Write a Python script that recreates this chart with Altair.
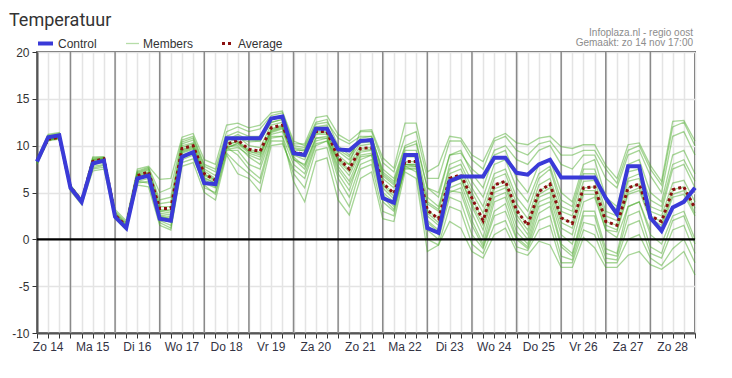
import altair as alt
import pandas as pd

# x index: 6-hourly steps starting Zo 14 06:00 (index 0) to Ma 29 00:00 (index 59)
day_labels = ["Zo 14", "Ma 15", "Di 16", "Wo 17", "Do 18", "Vr 19", "Za 20", "Zo 21",
              "Ma 22", "Di 23", "Wo 24", "Do 25", "Vr 26", "Za 27", "Zo 28"]
day_label_pos = [1, 5, 9, 13, 17, 21, 25, 29, 33, 37, 41, 45, 49, 53, 57]
day_starts = [3, 7, 11, 15, 19, 23, 27, 31, 35, 39, 43, 47, 51, 55]

control = [8.3, 10.9, 11.1, 5.5, 4.0, 8.1, 8.4, 2.4, 1.2, 6.5, 6.8, 2.2, 2.0, 8.8, 9.3,
           6.0, 5.9, 10.8, 10.8, 10.8, 10.8, 12.9, 13.1, 9.2, 9.0, 11.8, 11.8, 9.6, 9.5, 10.5,
           10.6, 4.4, 3.9, 9.0, 9.0, 1.2, 0.7, 6.2, 6.7, 6.7, 6.7, 8.7, 8.7, 7.1, 6.9,
           8.0, 8.5, 6.6, 6.6, 6.6, 6.6, 4.4, 2.7, 7.8, 7.8, 2.3, 0.9, 3.4, 4.0, 5.5]

average = [8.4, 10.7, 10.9, 5.6, 4.1, 8.3, 8.6, 2.6, 1.4, 6.8, 7.2, 3.3, 3.3, 9.7, 10.0,
           7.0, 6.3, 10.1, 10.6, 9.6, 9.4, 11.9, 12.2, 9.3, 9.1, 11.5, 11.5, 8.7, 7.5, 9.7,
           9.8, 6.0, 4.9, 8.3, 8.3, 3.1, 2.2, 6.5, 6.9, 4.4, 2.0, 5.8, 6.2, 3.1, 1.5,
           5.1, 5.9, 2.3, 1.7, 5.5, 5.6, 1.9, 1.5, 5.5, 5.9, 2.5, 1.9, 5.3, 5.6, 3.3]

m1 = [8.6, 11.2, 11.4, 5.8, 4.3, 8.8, 8.8, 3.2, 2.0, 7.5, 7.8, 6.4, 6.5, 10.9, 11.3, 8.5, 8.0, 12.2, 12.4, 11.9, 12.2, 13.5, 13.7, 10.5, 10.0, 12.5, 12.8, 10.0, 9.0, 10.5, 10.8, 7.5, 6.5, 10.0, 10.5, 5.5, 4.5, 9.0, 9.5, 7.0, 5.5, 9.0, 9.5, 6.5, 5.0, 8.0, 8.5, 5.0, 4.0, 8.0, 8.5, 4.5, 3.5, 8.0, 8.5, 5.0, 4.0, 9.0, 9.5, 7.0]
m2 = [8.0, 10.5, 10.7, 5.2, 3.7, 7.3, 7.5, 2.2, 1.0, 5.8, 5.6, 1.5, 1.0, 7.8, 8.2, 5.0, 4.2, 9.0, 7.0, 6.5, 5.1, 10.0, 10.2, 7.5, 6.5, 10.0, 10.5, 8.5, 8.0, 11.6, 11.7, 8.7, 7.6, 12.4, 12.4, 7.2, 7.9, 11.0, 10.8, 9.0, 8.3, 10.8, 11.3, 10.3, 10.1, 10.8, 11.0, 9.9, 9.7, 10.1, 10.1, 7.9, 6.5, 10.1, 10.3, 7.9, 6.2, 12.6, 12.7, 10.5]
m3 = [8.2, 10.6, 10.8, 5.4, 3.9, 7.8, 8.0, 2.4, 1.2, 6.2, 6.5, 2.0, 1.5, 8.5, 9.0, 5.5, 5.0, 9.5, 9.5, 8.0, 7.5, 11.0, 11.0, 6.2, 4.0, 8.3, 8.7, 4.2, 2.6, 6.5, 7.2, 2.2, 1.9, 7.2, 6.5, -1.3, -0.6, 1.9, 1.2, -1.3, -2.0, 0.5, 1.2, -1.3, -1.7, -0.2, -0.6, -3.0, -3.0, 0.2, -0.9, -3.0, -3.0, -1.7, -1.3, -2.7, -3.2, -2.3, -1.3, -3.8]
m4 = [8.4, 10.8, 11.0, 5.6, 4.1, 8.5, 8.7, 2.7, 1.5, 7.0, 7.4, 3.5, 3.5, 10.0, 10.3, 7.3, 6.5, 10.5, 11.0, 10.0, 9.8, 12.2, 12.5, 9.5, 9.5, 11.8, 11.8, 9.0, 8.0, 10.0, 10.2, 6.5, 5.5, 8.8, 8.8, 3.8, 3.0, 7.0, 7.5, 5.0, 2.8, 6.5, 7.0, 3.8, 2.2, 5.8, 6.5, 3.0, 2.5, 6.2, 6.3, 2.5, 2.0, 6.2, 6.5, 3.0, 2.5, 6.0, 6.3, 4.0]
m5 = [8.3, 10.6, 10.9, 5.5, 4.0, 8.0, 8.4, 2.5, 1.3, 6.6, 7.0, 2.8, 2.6, 9.4, 9.8, 6.6, 6.0, 9.8, 10.2, 9.2, 8.8, 11.6, 12.0, 9.0, 8.5, 11.2, 11.2, 8.2, 6.8, 9.3, 9.5, 5.5, 4.3, 7.8, 7.8, 2.5, 1.5, 6.0, 6.5, 3.5, 1.0, 5.0, 5.5, 2.2, 0.5, 4.5, 5.0, 1.2, 0.5, 4.8, 4.8, 1.0, 0.8, 4.8, 5.2, 2.0, 1.2, 4.5, 4.8, 2.5]
m6 = [8.5, 11.0, 11.2, 5.7, 4.2, 8.6, 8.7, 2.9, 1.7, 7.2, 7.6, 4.2, 4.5, 10.4, 10.8, 7.8, 7.2, 11.0, 11.5, 11.0, 11.0, 12.8, 13.0, 10.0, 9.8, 12.3, 12.5, 10.8, 10.2, 11.0, 11.0, 7.0, 6.0, 9.5, 9.5, 4.5, 3.5, 7.5, 8.0, 5.5, 3.5, 7.0, 7.5, 4.5, 3.0, 6.5, 7.5, 3.5, 3.0, 7.0, 7.0, 3.0, 2.5, 6.5, 7.0, 3.5, 3.0, 7.5, 8.0, 5.5]
m7 = [8.1, 10.6, 10.8, 5.3, 3.8, 7.6, 7.9, 2.3, 1.1, 6.0, 6.2, 1.8, 1.2, 8.2, 8.6, 6.0, 5.5, 9.6, 9.8, 9.0, 8.5, 11.2, 11.5, 8.5, 8.0, 10.8, 10.8, 7.5, 5.8, 8.5, 9.0, 4.8, 3.5, 7.5, 7.5, 1.5, 0.5, 5.0, 5.5, 2.0, -0.5, 4.0, 4.5, 0.8, -0.5, 3.5, 4.0, -0.5, -1.5, 3.0, 3.0, -1.0, -1.5, 3.5, 4.0, 0.5, -0.5, 2.5, 3.0, 0.0]
m8 = [8.4, 10.9, 11.1, 5.6, 4.1, 8.4, 8.6, 2.6, 1.4, 6.9, 7.2, 3.0, 3.2, 9.8, 10.2, 7.0, 6.3, 10.3, 10.8, 10.4, 10.5, 12.5, 12.8, 9.8, 9.6, 12.0, 12.2, 9.6, 8.8, 10.8, 11.0, 7.2, 6.2, 9.8, 10.2, 5.5, 5.0, 9.0, 9.2, 7.5, 6.5, 9.5, 10.0, 8.5, 8.0, 9.5, 10.0, 8.0, 7.5, 9.0, 9.0, 6.5, 5.5, 9.0, 9.5, 6.8, 5.0, 11.0, 11.5, 9.0]
m9 = [8.2, 10.7, 10.9, 5.4, 3.9, 8.0, 8.2, 2.4, 1.2, 6.4, 6.8, 2.4, 2.2, 9.0, 9.4, 6.4, 5.6, 9.8, 9.0, 7.5, 6.5, 10.8, 11.0, 8.0, 7.0, 10.2, 10.5, 6.5, 4.5, 8.0, 8.5, 4.0, 3.0, 8.0, 8.0, 1.0, 0.0, 4.5, 4.0, 0.5, -1.0, 2.5, 3.0, 0.0, -1.0, 2.0, 2.5, -1.8, -2.2, 1.8, 1.5, -2.0, -2.2, 1.5, 2.0, -1.5, -2.0, 1.0, 1.5, -1.5]
m10 = [8.4, 10.7, 11.0, 5.6, 4.1, 8.3, 8.6, 2.6, 1.4, 6.8, 7.1, 3.2, 3.0, 9.6, 10.0, 6.8, 6.2, 10.0, 10.5, 9.6, 9.3, 11.8, 12.2, 9.3, 9.1, 11.5, 11.5, 8.6, 7.4, 9.7, 9.8, 6.0, 4.9, 8.3, 8.3, 3.1, 2.2, 6.5, 6.9, 4.4, 2.0, 5.8, 6.2, 3.1, 1.5, 5.1, 5.9, 2.3, 1.7, 5.5, 5.6, 1.9, 1.5, 5.5, 5.9, 2.5, 1.9, 5.3, 5.6, 3.3]
m11 = [8.5, 11.1, 11.3, 5.7, 4.2, 8.7, 8.8, 3.0, 1.8, 7.3, 7.7, 5.0, 5.5, 10.6, 11.0, 8.0, 7.5, 11.5, 12.0, 11.5, 11.8, 13.2, 13.5, 10.2, 10.2, 13.0, 13.2, 11.2, 10.5, 11.5, 11.5, 8.2, 7.2, 11.0, 11.5, 6.5, 6.5, 10.5, 10.5, 8.5, 7.5, 10.5, 11.0, 9.5, 9.0, 10.2, 10.5, 9.0, 9.0, 9.5, 9.5, 7.5, 6.0, 9.5, 10.0, 7.5, 5.8, 12.0, 12.5, 10.0]
m12 = [8.3, 10.8, 11.0, 5.5, 4.0, 7.5, 7.7, 2.5, 1.3, 6.2, 6.0, 2.2, 1.8, 8.8, 9.2, 5.8, 4.8, 9.2, 8.0, 7.0, 6.0, 10.5, 10.5, 7.0, 5.5, 9.5, 9.8, 5.5, 3.5, 7.5, 8.0, 3.0, 2.5, 7.8, 7.2, 0.0, -0.6, 3.5, 3.0, -0.5, -1.5, 1.5, 2.0, -0.8, -1.2, 1.0, 1.5, -2.5, -2.5, 1.0, 0.5, -2.5, -2.5, 0.0, 0.5, -2.0, -2.8, -1.0, 0.0, -2.5]
m13 = [8.4, 10.9, 11.1, 5.6, 4.1, 8.5, 8.6, 2.8, 1.6, 7.1, 7.5, 3.8, 4.0, 10.2, 10.6, 7.5, 6.8, 10.6, 11.2, 10.6, 10.5, 12.5, 12.8, 9.7, 9.4, 11.9, 12.0, 9.4, 8.5, 10.3, 10.4, 6.8, 5.8, 9.2, 9.0, 4.0, 3.2, 8.0, 8.5, 6.2, 4.5, 8.0, 8.5, 5.5, 4.0, 7.0, 7.8, 4.2, 3.5, 7.5, 7.5, 4.0, 3.2, 7.2, 7.5, 4.2, 3.5, 8.0, 8.5, 6.2]
m14 = [8.3, 10.6, 10.8, 5.5, 4.0, 8.1, 8.4, 2.5, 1.3, 6.5, 6.9, 2.6, 2.4, 9.2, 9.6, 6.2, 5.8, 9.9, 10.0, 8.8, 8.0, 11.4, 11.8, 8.8, 7.8, 10.8, 11.0, 7.8, 6.2, 9.0, 9.2, 5.0, 4.0, 8.0, 7.8, 2.0, 1.0, 5.5, 6.0, 2.8, 0.2, 4.5, 5.0, 1.5, 0.0, 4.0, 4.5, 0.5, -0.5, 4.0, 4.5, 1.0, 0.2, 3.5, 4.0, 1.0]
m15 = [8.3, 10.8, 11.0, 5.5, 4.0, 8.2, 8.5, 2.6, 1.4, 6.7, 7.0, 3.0, 2.8, 9.5, 9.9, 6.9, 6.4, 10.2, 10.4, 9.4, 9.0, 11.7, 12.1, 9.1, 8.8, 11.3, 11.4, 8.4, 7.2, 9.5, 9.6, 5.8, 4.6, 8.0, 8.0, 2.8, 1.8, 6.2, 6.5, 3.8, 1.5, 5.4, 5.8, 2.6, 1.0, 4.8, 5.5, 1.8, 1.2, 5.2, 5.2, 1.5, 1.0, 5.0, 5.5, 2.2, 1.5, 4.8, 5.2, 2.8]
m16 = [8.2, 10.7, 10.9, 5.4, 3.9, 8.2, 8.4, 2.5, 1.3, 6.6, 7.0, 2.5, 2.2, 9.3, 9.7, 6.5, 6.0, 9.7, 10.3, 9.4, 9.2, 11.5, 11.9, 8.6, 7.5, 10.5, 10.8, 7.0, 5.2, 8.8, 9.0, 4.5, 3.2, 7.6, 7.6, 1.8, 0.8, 5.2, 5.0, 1.5, -0.8, 3.0, 3.8, 0.2, -0.8, 2.8, 3.5, -0.8, -1.8, 2.5, 2.5, -1.5, -1.8, 2.5, 3.0, -0.8, -1.5, 2.0, 2.5, -0.5]
members = [m1, m2, m3, m4, m5, m6, m7, m8, m9, m10, m11, m12, m13, m14, m15, m16]

y_ticks = [-10, -5, 0, 5, 10, 15, 20]

title_text = "Temperatuur"
source_lines = ["Infoplaza.nl - regio oost", "Gemaakt: zo 14 nov 17:00"]
legend_names = ["Control", "Members", "Average"]

# ---------------- build tables ----------------
n = len(control)
idx = list(range(n))
ctrl_df = pd.DataFrame({"i": idx, "v": control})
avg_df = pd.DataFrame({"i": idx, "v": average})
mem_df = pd.DataFrame([
    {"i": i, "v": v, "m": k} for k, s in enumerate(members) for i, v in enumerate(s)
])
day_df = pd.DataFrame({"i": day_starts})
lbl_df = pd.DataFrame({"i": day_label_pos, "t": day_labels})
zero_df = pd.DataFrame({"v": [0]})
one = pd.DataFrame({"a": [0]})

W, H = 658, 281
FONT = "Liberation Sans"
GREEN = "#48aa26"
BLUE = "#3a3ad8"
RED = "#8b1010"

xs = alt.Scale(domain=[0, n - 1], nice=False, zero=False)
ys = alt.Scale(domain=[-10, 20], nice=False, zero=False)

x_axis = alt.Axis(values=idx, grid=True, gridColor="#e4e4e4", gridWidth=1.5,
                  labels=False, tickSize=5, tickColor="#333",
                  domainColor="#555", domainWidth=2, title=None)
y_axis = alt.Axis(values=y_ticks, grid=True, gridColor="#e4e4e4", gridWidth=1.5,
                  tickSize=5, tickColor="#333", domainColor="#555", domainWidth=2,
                  labelFont=FONT, labelFontSize=12, labelColor="#333",
                  labelExpr="datum.value < 0 ? '-' + abs(datum.value) : '' + datum.value",
                  labelPadding=3, title=None)

X = alt.X("i:Q", scale=xs, axis=x_axis)
Y = alt.Y("v:Q", scale=ys, axis=y_axis)

base_grid = alt.Chart(ctrl_df).mark_point(opacity=0).encode(x=X, y=Y)

day_rules = alt.Chart(day_df).mark_rule(color="#8a8a8a", strokeWidth=1.5).encode(x=X)

zero_rule = alt.Chart(zero_df).mark_rule(color="#000", strokeWidth=2.2).encode(y=Y)

mem_lines = alt.Chart(mem_df).mark_line(color=GREEN, strokeWidth=1.3, opacity=0.48).encode(
    x=X, y=Y, detail="m:N")

avg_line = alt.Chart(avg_df).mark_line(color=RED, strokeWidth=3, strokeDash=[3, 3]).encode(
    x=X, y=Y)

ctrl_line = alt.Chart(ctrl_df).mark_line(color=BLUE, strokeWidth=4).encode(x=X, y=Y)

day_text = alt.Chart(lbl_df).mark_text(font=FONT, fontSize=12, color="#333344",
                                       baseline="middle", align="center").encode(
    x=X, y=alt.value(H + 14), text="t:N")

# title & annotations
title = alt.Chart(one).mark_text(text=title_text, font="Roboto", fontSize=18, color="#333",
                                 align="left", baseline="alphabetic").encode(
    x=alt.value(-28), y=alt.value(-26))
src1 = alt.Chart(one).mark_text(text=source_lines[0], font=FONT, fontSize=10, color="#8c8c8c",
                                align="right", baseline="middle").encode(
    x=alt.value(656), y=alt.value(-19))
src2 = alt.Chart(one).mark_text(text=source_lines[1], font=FONT, fontSize=10, color="#8c8c8c",
                                align="right", baseline="middle").encode(
    x=alt.value(656), y=alt.value(-9))

# legend
leg_y = -8.5
leg_ctrl = alt.Chart(one).mark_rule(color=BLUE, strokeWidth=4).encode(
    x=alt.value(1), x2=alt.value(16), y=alt.value(leg_y))
leg_mem = alt.Chart(one).mark_rule(color=GREEN, strokeWidth=1.3, opacity=0.4).encode(
    x=alt.value(89), x2=alt.value(102), y=alt.value(leg_y))
leg_avg = alt.Chart(one).mark_rule(color=RED, strokeWidth=3, strokeDash=[3, 3]).encode(
    x=alt.value(185), x2=alt.value(197), y=alt.value(leg_y))
leg_t1 = alt.Chart(one).mark_text(text=legend_names[0], font=FONT, fontSize=12, color="#333",
                                  align="left", baseline="middle").encode(x=alt.value(21), y=alt.value(leg_y))
leg_t2 = alt.Chart(one).mark_text(text=legend_names[1], font=FONT, fontSize=12, color="#333",
                                  align="left", baseline="middle").encode(x=alt.value(106), y=alt.value(leg_y))
leg_t3 = alt.Chart(one).mark_text(text=legend_names[2], font=FONT, fontSize=12, color="#333",
                                  align="left", baseline="middle").encode(x=alt.value(201), y=alt.value(leg_y))

chart = alt.layer(
    base_grid, day_rules, mem_lines, zero_rule, avg_line, ctrl_line, day_text,
    title, src1, src2, leg_ctrl, leg_mem, leg_avg, leg_t1, leg_t2, leg_t3,
).properties(
    width=W, height=H,
    autosize=alt.AutoSizeParams(type="none"),
    padding={"left": 29, "top": 44, "right": 12, "bottom": 30},
    background="white",
).configure_view(stroke="#666", strokeWidth=2)

chart.save("out.html", embed_options={"renderer": "svg", "actions": False})
